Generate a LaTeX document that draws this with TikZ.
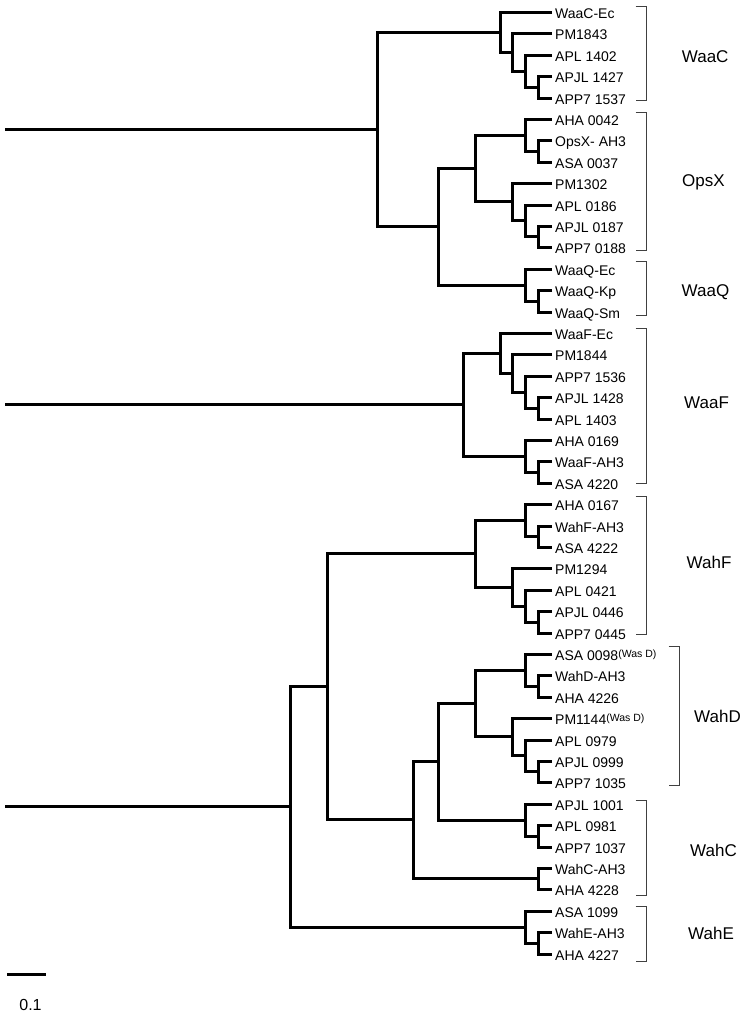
\documentclass[tikz,border=0pt]{standalone}
\usepackage{fontspec}
\setmainfont{Liberation Sans}
\usetikzlibrary{calc}
\tikzset{
  branch/.style={line width=3pt, line join=miter},
  rootline/.style={line width=2.2pt},
  leaflab/.style={anchor=base west, inner sep=0pt, font=\fontsize{14}{16}\selectfont},
  grouplab/.style={anchor=base west, inner sep=0pt, font=\fontsize{17}{20}\selectfont},
  brk/.style={line width=1.3pt, draw=black!75},
}
\newcommand\Lf[3]{%
  \coordinate (#1) at (552,{floor(12.5+21.4*#2)+0.5});
  \node[leaflab] (#1-t) at (555,{floor(12.5+21.4*#2)+6.5}) {#3};}
\newcommand\Jn[4]{%
  \path let \p1=($(#3)!0.5!(#4)$), \n1={floor(\y1)+0.5} in
    coordinate (#1) at (#2pt,\n1);
  \draw[branch] (#3) -| (#1) |- (#4);}
\newcommand\Bk[3]{%
  \draw[brk] ({#1-11},#2) -- (#1,#2) -- (#1,#3) -- ({#1-11},#3);}
\newcommand\WasD{\raisebox{3pt}{\fontsize{10.5}{12}\selectfont(Was D)}}
\begin{document}
\begin{tikzpicture}[x=1pt,y=-1pt]
\useasboundingbox (0,0) rectangle (755,1016);
% leaves
\Lf{l0}{0}{WaaC-Ec}
\Lf{l1}{1}{PM1843}
\Lf{l2}{2}{APL 1402}
\Lf{l3}{3}{APJL 1427}
\Lf{l4}{4}{APP7 1537}
\Lf{l5}{5}{AHA 0042}
\Lf{l6}{6}{OpsX- AH3}
\Lf{l7}{7}{ASA 0037}
\Lf{l8}{8}{PM1302}
\Lf{l9}{9}{APL 0186}
\Lf{l10}{10}{APJL 0187}
\Lf{l11}{11}{APP7 0188}
\Lf{l12}{12}{WaaQ-Ec}
\Lf{l13}{13}{WaaQ-Kp}
\Lf{l14}{14}{WaaQ-Sm}
\Lf{l15}{15}{WaaF-Ec}
\Lf{l16}{16}{PM1844}
\Lf{l17}{17}{APP7 1536}
\Lf{l18}{18}{APJL 1428}
\Lf{l19}{19}{APL 1403}
\Lf{l20}{20}{AHA 0169}
\Lf{l21}{21}{WaaF-AH3}
\Lf{l22}{22}{ASA 4220}
\Lf{l23}{23}{AHA 0167}
\Lf{l24}{24}{WahF-AH3}
\Lf{l25}{25}{ASA 4222}
\Lf{l26}{26}{PM1294}
\Lf{l27}{27}{APL 0421}
\Lf{l28}{28}{APJL 0446}
\Lf{l29}{29}{APP7 0445}
\Lf{l30}{30}{ASA 0098\WasD}
\Lf{l31}{31}{WahD-AH3}
\Lf{l32}{32}{AHA 4226}
\Lf{l33}{33}{PM1144\WasD}
\Lf{l34}{34}{APL 0979}
\Lf{l35}{35}{APJL 0999}
\Lf{l36}{36}{APP7 1035}
\Lf{l37}{37}{APJL 1001}
\Lf{l38}{38}{APL 0981}
\Lf{l39}{39}{APP7 1037}
\Lf{l40}{40}{WahC-AH3}
\Lf{l41}{41}{AHA 4228}
\Lf{l42}{42}{ASA 1099}
\Lf{l43}{43}{WahE-AH3}
\Lf{l44}{44}{AHA 4227}
% WaaC
\Jn{a1}{538.5}{l3}{l4}
\Jn{a2}{525.5}{l2}{a1}
\Jn{a3}{512.5}{l1}{a2}
\Jn{a4}{500.5}{l0}{a3}
% OpsX
\Jn{o1}{538.5}{l6}{l7}
\Jn{o2}{525.5}{l5}{o1}
\Jn{o3}{538.5}{l10}{l11}
\Jn{o4}{525.5}{l9}{o3}
\Jn{o5}{512.5}{l8}{o4}
\Jn{o6}{475.5}{o2}{o5}
% WaaQ
\Jn{q1}{538.5}{l13}{l14}
\Jn{q2}{525.5}{l12}{q1}
\Jn{t1}{438.5}{o6}{q2}
\Jn{t2}{377.5}{a4}{t1}
\coordinate (r1) at (5,0 |- t2);
\draw[rootline] (r1) -- (t2);
% WaaF
\Jn{f1}{538.5}{l18}{l19}
\Jn{f2}{525.5}{l17}{f1}
\Jn{f3}{512.5}{l16}{f2}
\Jn{f4}{500.5}{l15}{f3}
\Jn{f5}{538.5}{l21}{l22}
\Jn{f6}{525.5}{l20}{f5}
\Jn{f7}{463.5}{f4}{f6}
\coordinate (r2) at (5,0 |- f7);
\draw[rootline] (r2) -- (f7);
% WahF
\Jn{h1}{538.5}{l24}{l25}
\Jn{h2}{525.5}{l23}{h1}
\Jn{h3}{538.5}{l28}{l29}
\Jn{h4}{525.5}{l27}{h3}
\Jn{h5}{512.5}{l26}{h4}
\Jn{h6}{475.5}{h2}{h5}
% WahD
\Jn{d1}{538.5}{l31}{l32}
\Jn{d2}{525.5}{l30}{d1}
\Jn{d3}{538.5}{l35}{l36}
\Jn{d4}{525.5}{l34}{d3}
\Jn{d5}{512.5}{l33}{d4}
\Jn{d6}{475.5}{d2}{d5}
% WahC
\Jn{c1}{538.5}{l38}{l39}
\Jn{c2}{525.5}{l37}{c1}
\Jn{c3}{538.5}{l40}{l41}
\Jn{m1}{438.5}{d6}{c2}
\Jn{m2}{413.5}{m1}{c3}
\Jn{m3}{327.5}{h6}{m2}
% WahE
\Jn{e1}{538.5}{l43}{l44}
\Jn{e2}{525.5}{l42}{e1}
\Jn{m4}{290.5}{m3}{e2}
\coordinate (r3) at (5,0 |- m4);
\draw[rootline] (r3) -- (m4);
% brackets
\Bk{646.5}{6.5}{100.5}
\Bk{646.5}{112.5}{250.5}
\Bk{646.5}{261.5}{315.5}
\Bk{646.5}{328.5}{483.5}
\Bk{646.5}{496.5}{634.5}
\Bk{679.5}{646.5}{785.5}
\Bk{646.5}{800.5}{895.5}
\Bk{646.5}{906.5}{961.5}
% group labels
\node[grouplab] (gWaaC) at (681.7,63) {WaaC};
\node[grouplab] (gOpsX) at (682,187) {OpsX};
\node[grouplab] (gWaaQ) at (681.5,296) {WaaQ};
\node[grouplab] (gWaaF) at (684,408) {WaaF};
\node[grouplab] (gWahF) at (686.5,568) {WahF};
\node[grouplab] (gWahD) at (694,722) {WahD};
\node[grouplab] (gWahC) at (690,856) {WahC};
\node[grouplab] (gWahE) at (688,939) {WahE};
% scale bar
\coordinate (s1) at (7,974.5);
\coordinate (s2) at (46,974.5);
\draw[rootline] (s1) -- (s2);
\node[inner sep=0pt, font=\fontsize{16}{18}\selectfont] (slab) at (30.5,1005) {0.1};
\end{tikzpicture}
\end{document}
